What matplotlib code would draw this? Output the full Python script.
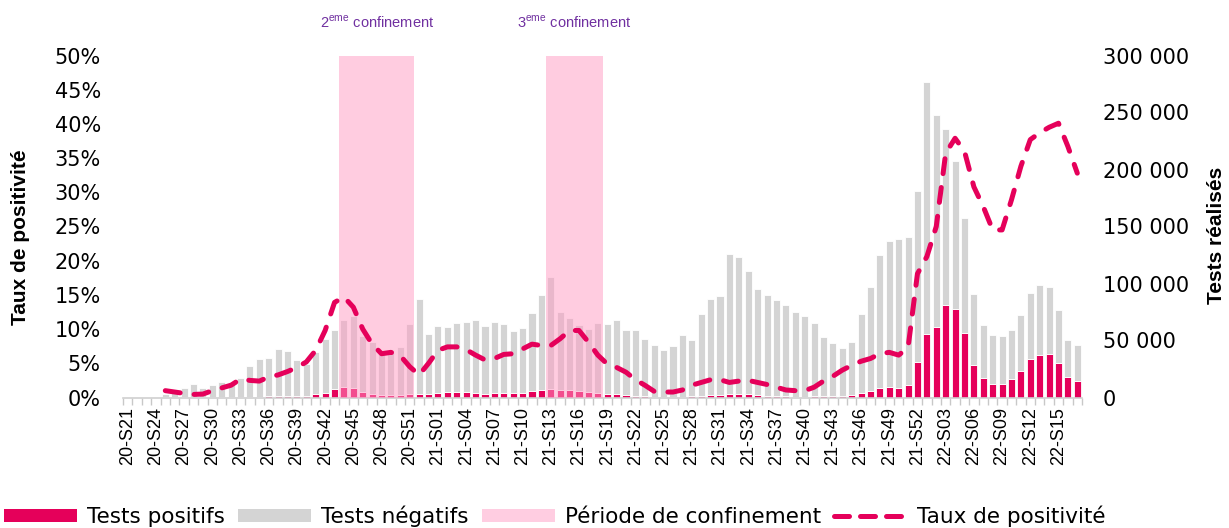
import numpy as np
import matplotlib
matplotlib.use("Agg")
import matplotlib.pyplot as plt
from matplotlib.patches import Patch
from matplotlib.lines import Line2D
from matplotlib.ticker import FuncFormatter, MultipleLocator, FixedLocator

plt.rcParams['font.family'] = ['Liberation Sans', 'DejaVu Sans']
plt.rcParams['mathtext.fontset'] = 'custom'
plt.rcParams['mathtext.rm'] = 'Liberation Sans'

# weeks: 2020-S21..S53, 2021-S01..S52, 2022-S01..S17
years = [(20, 21, 53), (21, 1, 52), (22, 1, 17)]
weeks = []
for yy, w0, w1 in years:
    for w in range(w0, w1 + 1):
        weeks.append('%02d-S%02d' % (yy, w))

# total tests (top of grey bar)
tests_total = [0, 0, 0, 0, 3000, 5500, 8200, 12000, 8500, 10600,
               13500, 13500, 17300, 27300, 34000, 34900, 42200, 40700, 33100, 29600,
               39900, 51600, 59500, 68300, 71300, 53700, 48700, 40500, 42000, 44300,
               64800, 86000, 55400, 62500, 61900, 65400, 66300, 67700, 62500, 66300,
               64200, 58100, 61300, 74200, 90300, 105300, 75100, 69800, 63300, 59800,
               65400, 64500, 68300, 58900, 58900, 51000, 45700, 41400, 45100, 54500,
               50100, 73000, 86200, 88900, 125800, 122900, 110900, 95600, 89700, 85300,
               80900, 75100, 71300, 65400, 53100, 48100, 43400, 48700, 73600, 96500,
               124900, 137200, 138700, 141000, 181500, 276900, 248100, 235800, 207600, 157800,
               91200, 63300, 54500, 53700, 59500, 72100, 92100, 98500, 97100, 77100,
               50100, 45700]

tests_positifs = [0, 0, 0, 0, 30, 40, 50, 55, 40, 100,
                  200, 250, 450, 700, 800, 1000, 1400, 1500, 1450, 1500,
                  2700, 4200, 7500, 9500, 8600, 5000, 3400, 2400, 2300, 2400,
                  2700, 2800, 3000, 4100, 4400, 4700, 4500, 4100, 3400, 3700,
                  3900, 3600, 4200, 5500, 6600, 7700, 6200, 6500, 5900, 4600,
                  3800, 3100, 2900, 2100, 1500, 900, 400, 330, 360, 600,
                  900, 1600, 2200, 2300, 2800, 2900, 2800, 2100, 1700, 1300,
                  900, 750, 700, 1000, 1300, 1500, 1700, 2300, 3900, 5500,
                  8000, 9000, 8600, 10600, 31000, 55400, 61900, 80900, 78000, 56600,
                  28200, 17000, 12000, 12000, 16400, 23100, 34000, 37500, 37800, 30500,
                  17900, 14100]

taux = [np.nan, np.nan, np.nan, np.nan, 1.0, 0.8, 0.6, 0.45, 0.5, 1.0,
        1.4, 1.8, 2.7, 2.5, 2.4, 3.0, 3.3, 3.8, 4.4, 5.2,
        6.9, 9.8, 13.9, 14.7, 13.2, 10.0, 7.8, 6.4, 6.6, 6.1,
        4.5, 3.3, 5.0, 6.9, 7.4, 7.4, 7.0, 6.2, 5.5, 5.7,
        6.3, 6.4, 7.1, 7.8, 7.6, 7.6, 8.6, 9.8, 9.8, 8.1,
        6.2, 4.9, 4.4, 3.7, 2.6, 1.8, 0.9, 0.8, 0.8, 1.1,
        1.8, 2.2, 2.6, 2.6, 2.2, 2.4, 2.5, 2.2, 1.9, 1.5,
        1.1, 1.0, 1.0, 1.5, 2.4, 3.1, 4.0, 4.7, 5.3, 5.7,
        6.4, 6.6, 6.2, 7.3, 18.1, 20.6, 25.0, 35.7, 37.9, 36.0,
        30.8, 27.9, 24.5, 24.5, 28.9, 33.8, 37.7, 38.7, 39.5, 40.1,
        36.7, 32.8]

# lockdown periods (first and last week)
confinements = [('20-S44', '20-S51', '2'), ('21-S13', '21-S18', '3')]

pos_color = '#E5005A'
neg_color = '#D4D4D4'
span_color = '#FF9BC3'
purple = '#7030A0'
wide = 'DejaVu Sans'

x = np.arange(len(weeks))
tests_negatifs = np.array(tests_total) - np.array(tests_positifs)

fig = plt.figure(figsize=(12.29, 5.28), dpi=100)
ax = fig.add_axes([123 / 1229, 1 - 397.5 / 528, 959 / 1229, 342 / 528])
ax2 = ax.twinx()

# bars (right scale)
ax.bar(x, tests_positifs, width=0.75, color=pos_color, edgecolor='white', linewidth=0.6, zorder=2)
ax.bar(x, tests_negatifs, bottom=tests_positifs, width=0.75, color=neg_color,
       edgecolor='white', linewidth=0.6, zorder=2)

for start, end, num in confinements:
    i0 = weeks.index(start) - 0.5
    i1 = weeks.index(end) + 0.5
    ax.axvspan(i0, i1, ymin=0, ymax=1, color=span_color, alpha=0.5, lw=0, zorder=3)
    ax.text((i0 + i1) / 2, 1.098, r'%s$^{\mathregular{eme}}$ confinement' % num,
            transform=ax.get_xaxis_transform(), ha='center', va='center',
            fontsize=10.5, color=purple)

ax.set_xlim(-0.5, len(weeks) - 0.5)
ax.set_ylim(0, 300000)
ax.yaxis.tick_right()
ax.yaxis.set_major_locator(MultipleLocator(50000))
ax.yaxis.set_major_formatter(FuncFormatter(lambda v, p: ('{:,}'.format(int(v))).replace(',', ' ')))
ax.tick_params(axis='y', length=0, pad=15)
for t in ax.get_yticklabels():
    t.set_fontfamily(wide)
    t.set_fontsize(15)

ax.set_xticks(x[::3])
ax.set_xticklabels(weeks[::3], rotation=90, fontsize=13)
ax.xaxis.set_minor_locator(FixedLocator(np.arange(-0.5, len(weeks), 1.0)))
ax.tick_params(axis='x', which='major', length=0, pad=7)
ax.tick_params(axis='x', which='minor', length=5, color='#C8C8C8', width=1)

for s in ['top', 'left', 'right']:
    ax.spines[s].set_visible(False)
ax.spines['bottom'].set_color('#D0D0D0')
ax.spines['bottom'].set_linewidth(1.2)

# positivity rate (left scale)
ax2.plot(x, taux, color=pos_color, lw=3.6, dashes=(3, 2.8), dash_capstyle='round', zorder=5)
ax2.set_ylim(0, 50)
ax2.yaxis.tick_left()
ax2.yaxis.set_major_locator(MultipleLocator(5))
ax2.yaxis.set_major_formatter(FuncFormatter(lambda v, p: '%d%%' % v))
ax2.tick_params(axis='y', length=0, pad=16)
for t in ax2.get_yticklabels():
    t.set_fontfamily(wide)
    t.set_fontsize(15)
for s in ax2.spines.values():
    s.set_visible(False)

fig.text(21 / 1229, 1 - 237 / 528, 'Taux de positivité', rotation=90, ha='center', va='center',
         fontsize=15, fontweight='bold')
fig.text(1217 / 1229, 1 - 235 / 528, 'Tests réalisés', rotation=90, ha='center', va='center',
         fontsize=15, fontweight='bold')

handles = [Patch(facecolor=pos_color), Patch(facecolor=neg_color),
           Patch(facecolor='#FFCDE1'),
           Line2D([], [], color=pos_color, lw=3.6, dashes=(3, 2.2), dash_capstyle='round')]
labels = ['Tests positifs', 'Tests négatifs', 'Période de confinement', 'Taux de positivité']
fig.legend(handles, labels, loc='center left', bbox_to_anchor=(4 / 1229, 1 - 516 / 528),
           ncol=4, frameon=False, prop={'family': wide, 'size': 15.5},
           handlelength=3.4, handleheight=0.55, handletextpad=0.45, columnspacing=0.62,
           borderpad=0, borderaxespad=0)

fig.savefig('out.png', dpi=100)
